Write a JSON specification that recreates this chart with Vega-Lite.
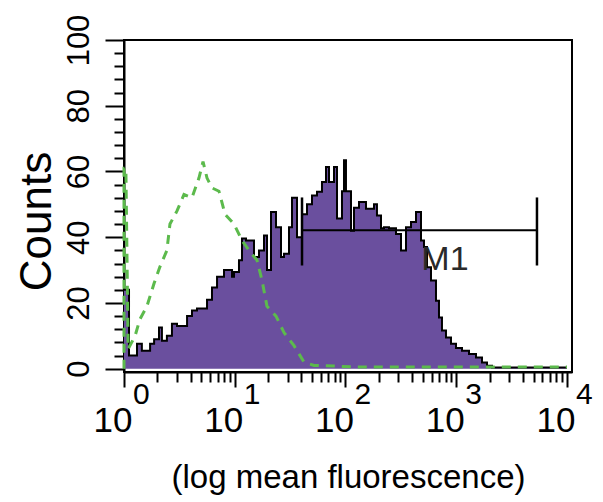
{
  "$schema": "https://vega.github.io/schema/vega-lite/v6.json",
  "width": 448,
  "height": 332,
  "autosize": "none",
  "padding": {"left": 124, "top": 40, "right": 31, "bottom": 130},
  "background": "white",
  "config": {
    "view": {"stroke": "black", "strokeWidth": 2},
    "font": "Liberation Sans",
    "axis": {"domainColor": "black", "domainWidth": 2, "tickColor": "black", "tickWidth": 2, "labelColor": "black", "titleColor": "black", "grid": false, "titleFontWeight": "normal", "labelFont": "Liberation Sans", "titleFont": "Liberation Sans"}
  },
  "datasets": {
    "pos": [
      {"x":1,"c":24},{"x":1.11,"c":4},{"x":1.31,"c":7.6},{"x":1.45,"c":5.5},{"x":1.72,"c":7.6},{"x":1.87,"c":9},{"x":2.07,"c":12.5},{"x":2.2,"c":8.5},{"x":2.44,"c":10},{"x":2.71,"c":13.7},{"x":3.01,"c":13},{"x":3.71,"c":16},{"x":4.11,"c":17.7},{"x":4.56,"c":18.3},{"x":5.62,"c":21},{"x":6.23,"c":24.7},{"x":6.92,"c":28},{"x":8.0,"c":30},{"x":9.45,"c":28},{"x":9.85,"c":29.4},{"x":10.92,"c":33},{"x":11.63,"c":39.6},{"x":12.64,"c":39},{"x":14.92,"c":34},{"x":16.56,"c":36},{"x":18.37,"c":40.5},{"x":19.55,"c":30},{"x":21.25,"c":47.7},{"x":23.58,"c":43},{"x":26.16,"c":34},{"x":27.84,"c":35},{"x":30.89,"c":43},{"x":32.88,"c":52},{"x":36.49,"c":40},{"x":40.48,"c":47},{"x":44.92,"c":50},{"x":49.84,"c":52.7},{"x":55.3,"c":53.8},{"x":61.35,"c":56.8},{"x":66.67,"c":61.4},{"x":70.96,"c":56.8},{"x":78.74,"c":61.4},{"x":83.8,"c":45.7},{"x":92.99,"c":54},{"x":96.94,"c":63.4},{"x":101,"c":54},{"x":112.1,"c":42},{"x":119.3,"c":49},{"x":132.4,"c":50.7},{"x":153.1,"c":48.7},{"x":180.8,"c":50},{"x":192.4,"c":46.6},{"x":209.2,"c":42.7},{"x":222.6,"c":43},{"x":247.1,"c":42.7},{"x":285.8,"c":41},{"x":317.1,"c":36},{"x":351.9,"c":43},{"x":390.4,"c":44.6},{"x":433.2,"c":47.7},{"x":480.5,"c":39},{"x":511.4,"c":37},{"x":544.5,"c":30.9},{"x":591.6,"c":26.8},{"x":656.4,"c":20.7},{"x":698.5,"c":15.6},{"x":743.4,"c":11.6},{"x":808,"c":9.5},{"x":896.5,"c":7.6},{"x":994.7,"c":6.3},{"x":1127,"c":5.5},{"x":1304,"c":4.5},{"x":1508,"c":3.4},{"x":1708,"c":1.9},{"x":1895,"c":0.9},{"x":2103,"c":0.4},{"x":10000,"c":0.4}
    ],
    "neg": [
      {"i":0,"x":1,"c":0},{"i":1,"x":1,"c":61},{"i":2,"x":1.04,"c":61},{"i":3,"x":1.09,"c":6},{"i":4,"x":1.26,"c":10},{"i":5,"x":1.39,"c":15},{"i":6,"x":1.61,"c":19},{"i":7,"x":1.87,"c":26},{"i":8,"x":2.11,"c":31},{"i":9,"x":2.44,"c":36},{"i":10,"x":2.6,"c":44},{"i":11,"x":3.01,"c":48},{"i":12,"x":3.48,"c":53},{"i":13,"x":4.11,"c":52},{"i":14,"x":4.75,"c":58},{"i":15,"x":5.17,"c":63},{"i":16,"x":5.62,"c":58},{"i":17,"x":6.23,"c":55},{"i":18,"x":7.2,"c":54},{"i":19,"x":8.17,"c":47},{"i":20,"x":9.85,"c":44},{"i":21,"x":11.63,"c":39},{"i":22,"x":13.45,"c":36},{"i":23,"x":15.9,"c":33},{"i":24,"x":17.6,"c":27},{"i":25,"x":19.55,"c":19},{"i":26,"x":23.58,"c":16},{"i":27,"x":27.84,"c":11},{"i":28,"x":34.3,"c":7},{"i":29,"x":42.2,"c":2},{"i":30,"x":52,"c":1},{"i":31,"x":78.7,"c":0.8},{"i":32,"x":132,"c":0.5},{"i":33,"x":1000,"c":0.5},{"i":34,"x":10000,"c":0.5}
    ],
    "m1h": [{"x":40.5,"x2":5358,"y":42.1}],
    "m1v": [{"x":40.5,"y":31.4,"y2":52.1},{"x":5358,"y":31.4,"y2":52.1}],
    "m1t": [{"x":484,"y":33.1,"t":"M1"}],
    "exps": [{"x":1,"e":"0"},{"x":10,"e":"1"},{"x":100,"e":"2"},{"x":1000,"e":"3"},{"x":10000,"e":"4"}]
  },
  "layer": [
    {
      "data": {"name": "pos"},
      "mark": {"type": "area", "interpolate": "step-after", "color": "#6a4f9e", "opacity": 1},
      "encoding": {
        "x": {
          "field": "x", "type": "quantitative",
          "scale": {"type": "log", "domain": [1, 11100], "nice": false},
          "axis": {
            "values": [1,2,3,4,5,6,7,8,9,10,20,30,40,50,60,70,80,90,100,200,300,400,500,600,700,800,900,1000,2000,3000,4000,5000,6000,7000,8000,9000,10000],
            "tickCount": 500,
            "labelExpr": "indexof([1,10,100,1000,10000], datum.value) >= 0 ? '10' : ''",
            "tickSize": {"condition": {"test": "indexof([1,10,100,1000,10000], datum.value) >= 0", "value": 15}, "value": 10},
            "labelFontSize": 35, "labelOffset": 8, "labelPadding": 44, "labelBaseline": "alphabetic", "labelAlign": "right",
            "labelOverlap": false, "labelFlush": false, "labelBound": false,
            "title": "(log mean fluorescence)", "titleFontSize": 33, "titleX": 224, "titleY": 115, "titleAlign": "center", "titleBaseline": "alphabetic"
          }
        },
        "y": {
          "field": "c", "type": "quantitative",
          "scale": {"domain": [-1, 100], "nice": false, "zero": false},
          "axis": {
            "values": [0,4,8,12,16,20,24,28,32,36,40,44,48,52,56,60,64,68,72,76,80,84,88,92,96,100],
            "tickCount": 500,
            "format": "d",
            "labelExpr": "datum.value % 20 === 0 ? format(datum.value, 'd') : ''",
            "tickSize": {"condition": {"test": "datum.value % 20 === 0", "value": 19}, "value": 10},
            "labelAngle": 270, "labelAlign": "center", "labelBaseline": "alphabetic", "labelFontSize": 31, "labelPadding": 17,
            "labelOverlap": false, "labelFlush": false, "labelBound": false,
            "title": "Counts", "titleFontSize": 44, "titleAngle": 270, "titleX": -74, "titleY": 181, "titleAlign": "center", "titleBaseline": "alphabetic"
          }
        }
      }
    },
    {
      "data": {"name": "pos"},
      "mark": {"type": "line", "interpolate": "step-after", "color": "black", "strokeWidth": 2},
      "encoding": {
        "x": {"field": "x", "type": "quantitative"},
        "y": {"field": "c", "type": "quantitative"}
      }
    },
    {
      "data": {"name": "neg"},
      "mark": {"type": "line", "color": "#5cba4c", "strokeWidth": 3, "strokeDash": [9, 7]},
      "encoding": {
        "x": {"field": "x", "type": "quantitative"},
        "y": {"field": "c", "type": "quantitative"},
        "order": {"field": "i", "type": "quantitative"}
      }
    },
    {
      "data": {"name": "m1h"},
      "mark": {"type": "rule", "color": "black", "strokeWidth": 2},
      "encoding": {
        "x": {"field": "x", "type": "quantitative"},
        "x2": {"field": "x2"},
        "y": {"field": "y", "type": "quantitative"}
      }
    },
    {
      "data": {"name": "m1v"},
      "mark": {"type": "rule", "color": "black", "strokeWidth": 2.5},
      "encoding": {
        "x": {"field": "x", "type": "quantitative"},
        "y": {"field": "y", "type": "quantitative"},
        "y2": {"field": "y2"}
      }
    },
    {
      "data": {"name": "m1t"},
      "mark": {"type": "text", "align": "left", "baseline": "middle", "fontSize": 34, "color": "#2a2a2a"},
      "encoding": {
        "x": {"field": "x", "type": "quantitative"},
        "y": {"field": "y", "type": "quantitative"},
        "text": {"field": "t"}
      }
    },
    {
      "data": {"name": "exps"},
      "mark": {"type": "text", "align": "left", "baseline": "alphabetic", "dx": 9, "dy": 32, "fontSize": 30, "color": "black"},
      "encoding": {
        "x": {"field": "x", "type": "quantitative"},
        "y": {"datum": -1, "type": "quantitative"},
        "text": {"field": "e"}
      }
    }
  ]
}
